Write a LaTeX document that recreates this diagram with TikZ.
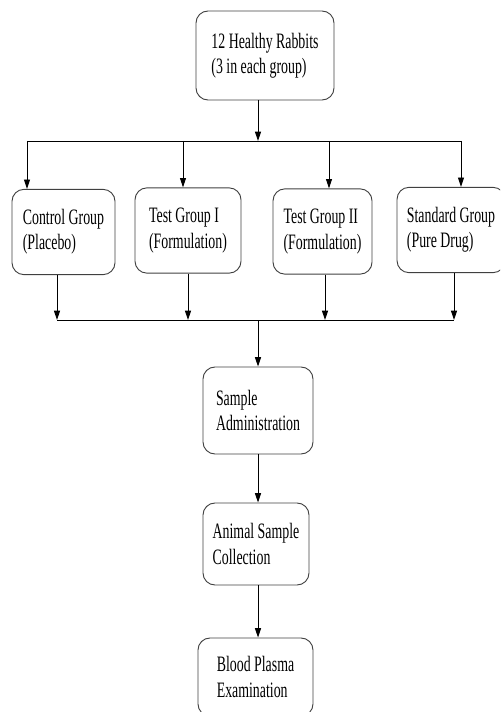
\documentclass[tikz,border=0pt]{standalone}
\usepackage{fontspec}
\setmainfont[FakeStretch=0.63]{Liberation Serif}
\usetikzlibrary{arrows.meta}
\tikzset{
  box/.style={draw=black!75, line width=0.7pt, rounded corners=9pt, align=left,
    minimum height=64pt, font=\fontsize{16.5}{19}\selectfont},
  flow/.style={line width=0.7pt, -{Triangle[length=7pt,width=4.5pt]}},
  link/.style={line width=0.7pt}
}
\begin{document}
\begin{tikzpicture}[x=0.75pt,y=-0.75pt]
\useasboundingbox (0,0) rectangle (500,712);
\clip (0,0) rectangle (500,712);
\node[box,minimum width=103.5pt,minimum height=66.75pt] (rabbits) at (265,55.5) {12 Healthy Rabbits\\(3 in each group)};
\node[box,minimum width=77.25pt] (control) at (63.5,232) {Control Group\\(Placebo)};
\node[box,minimum width=79.5pt] (testone) at (188,230.5) {Test Group I\\(Formulation)};
\node[box,minimum width=74.25pt] (testtwo) at (322.5,231.5) {Test Group II\\(Formulation)};
\node[box,minimum width=81pt] (standard) at (451,230) {Standard Group\\(Pure Drug)};
\node[box,minimum width=82.5pt,minimum height=65.25pt] (sample) at (258,410.5) {Sample\\Administration};
\node[box,minimum width=79.5pt,minimum height=61.5pt] (animal) at (256,544) {Animal Sample\\Collection};
\node[box,minimum width=86.25pt,minimum height=58.5pt] (blood) at (255.5,677) {Blood Plasma\\Examination};
\coordinate (split) at (258,141);
\coordinate (s1) at (27,141);
\coordinate (s2) at (183,141);
\coordinate (s3) at (329,141);
\coordinate (s4) at (461,141);
\coordinate (join) at (258,320);
\coordinate (j1) at (57,320);
\coordinate (j2) at (188,320);
\coordinate (j3) at (325,320);
\coordinate (j4) at (454,320);
\draw[flow] (rabbits.south -| split) -- (split);
\draw[link] (s1) -- (s4);
\draw[flow] (s1) -- (s1 |- control.north);
\draw[flow] (s2) -- (s2 |- testone.north);
\draw[flow] (s3) -- (s3 |- testtwo.north);
\draw[flow] (s4) -- (s4 |- standard.north);
\draw[flow] (j1 |- control.south) -- (j1);
\draw[flow] (j2 |- testone.south) -- (j2);
\draw[flow] (j3 |- testtwo.south) -- (j3);
\draw[flow] (j4 |- standard.south) -- (j4);
\draw[link] (j1) -- (j4);
\draw[flow] (join) -- (join |- sample.north);
\draw[flow] (sample.south -| join) -- (join |- animal.north);
\draw[flow] (animal.south -| join) -- (join |- blood.north);
\end{tikzpicture}
\end{document}
